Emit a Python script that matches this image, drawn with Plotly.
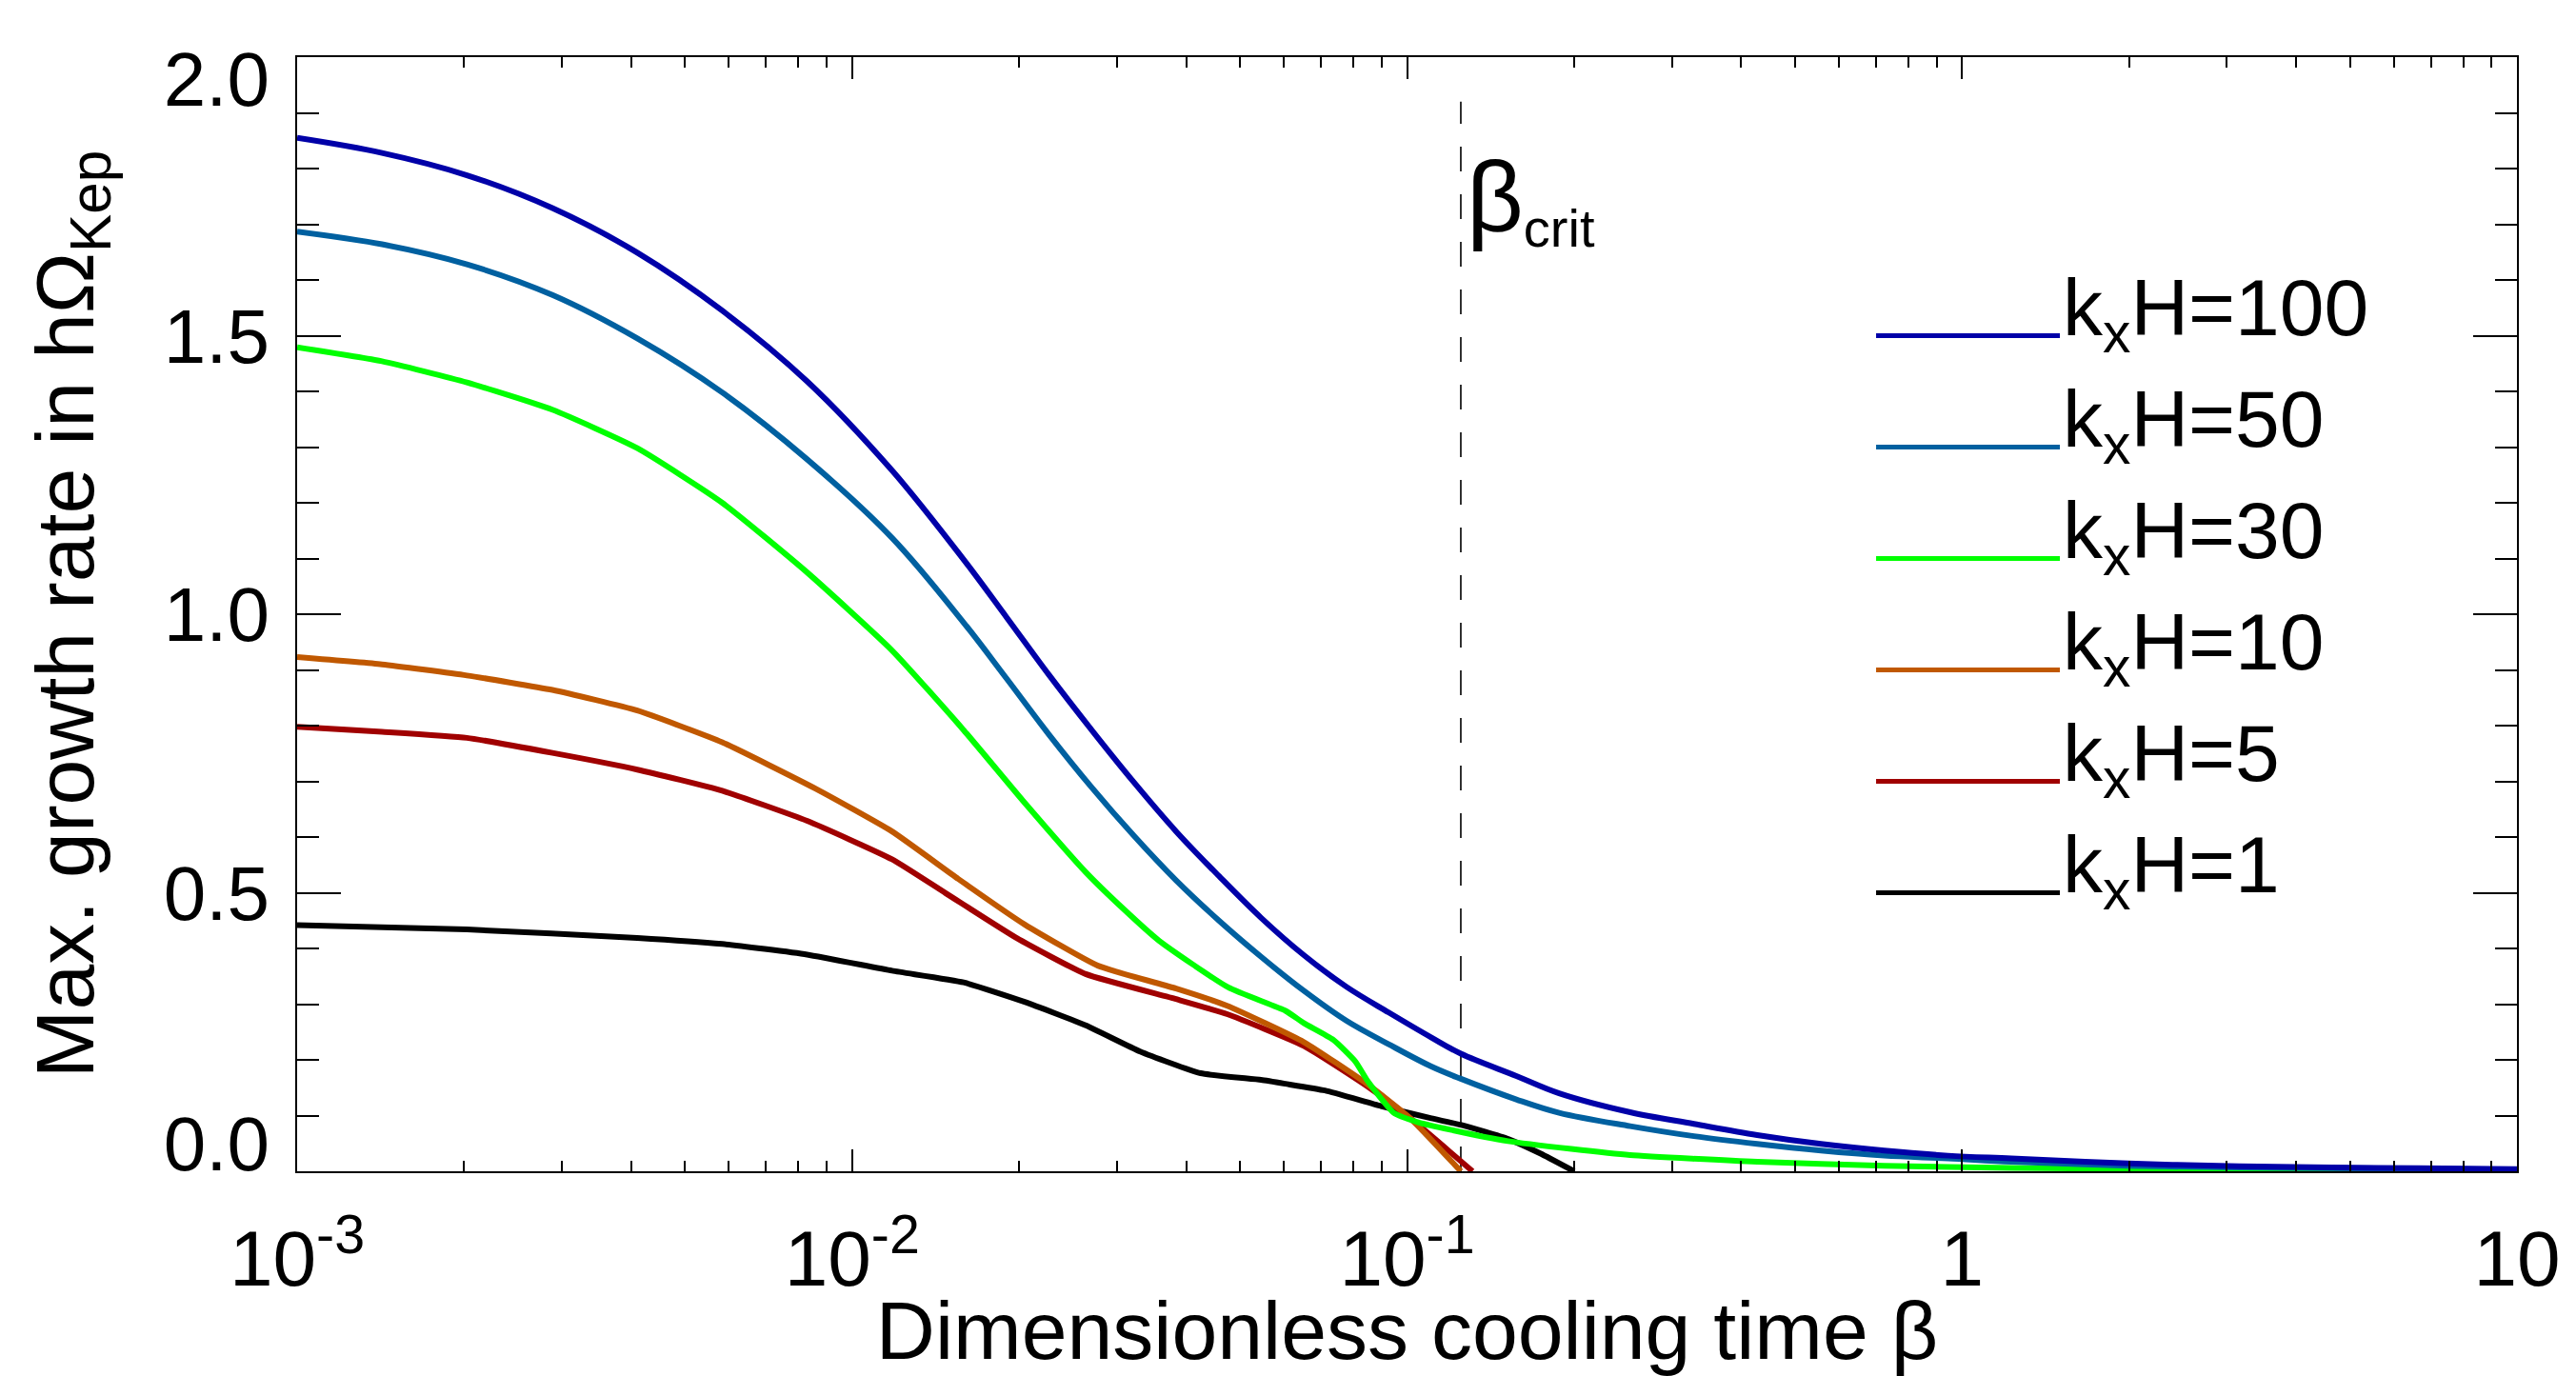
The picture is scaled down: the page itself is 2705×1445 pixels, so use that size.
import plotly.graph_objects as go

# ---------------- data ----------------
log_beta_k100 = [-3.0, -2.847, -2.694, -2.540, -2.387, -2.234, -2.081, -1.928, -1.799, -1.722,
                 -1.646, -1.569, -1.492, -1.416, -1.339, -1.263, -1.186, -1.109, -1.033, -0.956,
                 -0.903, -0.803, -0.726, -0.598, -0.483, -0.369, -0.254, -0.140, -0.025, 0.089,
                 0.3, 0.5, 0.75, 1.0]
growth_k100 = [1.855, 1.828, 1.788, 1.729, 1.649, 1.545, 1.418, 1.258, 1.098, 0.995,
               0.892, 0.793, 0.698, 0.610, 0.530, 0.455, 0.388, 0.331, 0.285, 0.240,
               0.211, 0.171, 0.140, 0.106, 0.085, 0.065, 0.049, 0.037, 0.028, 0.023,
               0.014, 0.009, 0.006, 0.004]

log_beta_k50 = [-3.0, -2.847, -2.694, -2.540, -2.387, -2.234, -2.081, -1.928, -1.799, -1.722,
                -1.646, -1.569, -1.492, -1.416, -1.339, -1.263, -1.186, -1.109, -1.033, -0.956,
                -0.903, -0.803, -0.726, -0.598, -0.483, -0.369, -0.254, -0.140, -0.025, 0.089,
                0.3, 0.5, 0.75, 1.0]
growth_k50 = [1.687, 1.664, 1.628, 1.573, 1.495, 1.398, 1.278, 1.137, 0.985, 0.885,
              0.785, 0.690, 0.602, 0.522, 0.450, 0.385, 0.324, 0.270, 0.228, 0.188,
              0.166, 0.129, 0.105, 0.081, 0.063, 0.049, 0.037, 0.028, 0.023, 0.017,
              0.010, 0.007, 0.005, 0.003]

log_beta_k30 = [-3.0, -2.847, -2.694, -2.540, -2.387, -2.234, -2.081, -1.928, -1.799, -1.692,
                -1.579, -1.510, -1.447, -1.322, -1.219, -1.186, -1.133, -1.093, -1.071, -1.024,
                -0.980, -0.933, -0.818, -0.704, -0.598, -0.369, -0.140, 0.089, 0.5, 1.0]
growth_k30 = [1.479, 1.454, 1.416, 1.367, 1.298, 1.200, 1.075, 0.935, 0.792, 0.665,
              0.537, 0.470, 0.414, 0.330, 0.288, 0.266, 0.236, 0.197, 0.162, 0.105,
              0.088, 0.077, 0.054, 0.040, 0.029, 0.017, 0.010, 0.006, 0.003, 0.002]

log_beta_k10 = [-3.0, -2.847, -2.694, -2.540, -2.387, -2.234, -2.066, -1.928, -1.809, -1.689,
                -1.557, -1.416, -1.324, -1.186, -1.071, -0.994, -0.903]
growth_k10 = [0.923, 0.910, 0.890, 0.864, 0.827, 0.770, 0.687, 0.610, 0.525, 0.443,
              0.369, 0.328, 0.297, 0.232, 0.156, 0.095, 0.0]

log_beta_k5 = [-3.0, -2.847, -2.694, -2.540, -2.387, -2.234, -2.081, -1.928, -1.831, -1.704,
               -1.579, -1.416, -1.324, -1.186, -1.071, -0.994, -0.882]
growth_k5 = [0.798, 0.789, 0.778, 0.751, 0.721, 0.683, 0.629, 0.560, 0.499, 0.419,
             0.354, 0.309, 0.282, 0.225, 0.152, 0.095, 0.0]

log_beta_k1 = [-3.0, -2.694, -2.387, -2.234, -2.081, -1.928, -1.799, -1.689, -1.579, -1.481,
               -1.372, -1.263, -1.219, -1.148, -1.047, -0.956, -0.902, -0.818, -0.760, -0.699]
growth_k1 = [0.442, 0.434, 0.419, 0.408, 0.389, 0.360, 0.339, 0.304, 0.262, 0.215,
             0.176, 0.164, 0.157, 0.145, 0.117, 0.095, 0.083, 0.058, 0.032, 0.0]

series_names = ["k<sub>x</sub>H=100", "k<sub>x</sub>H=50", "k<sub>x</sub>H=30",
                "k<sub>x</sub>H=10", "k<sub>x</sub>H=5", "k<sub>x</sub>H=1"]
series_colors = ["#0000A8", "#0060A0", "#00FF00", "#C05800", "#A00000", "#000000"]
series_smooth = [1.0, 1.0, 0.5, 0.45, 0.45, 0.45]
series_x = [log_beta_k100, log_beta_k50, log_beta_k30, log_beta_k10, log_beta_k5, log_beta_k1]
series_y = [growth_k100, growth_k50, growth_k30, growth_k10, growth_k5, growth_k1]

beta_crit = 0.125

x_tick_vals = [1e-3, 1e-2, 1e-1, 1, 10]
x_tick_text = ["10<sup>-3</sup>", "10<sup>-2</sup>", "10<sup>-1</sup>", "1", "10"]
y_tick_vals = [0.0, 0.5, 1.0, 1.5, 2.0]
y_tick_text = ["0.0", "0.5", "1.0", "1.5", "2.0"]
# label positions (the end labels sit slightly inside the frame in the original)
y_label_pos = [0.05, 0.5, 1.0, 1.5, 1.96]

FONT = "Liberation Sans, Arial, Helvetica, sans-serif"

fig = go.Figure()

# dashed beta_crit line
fig.add_trace(go.Scatter(x=[beta_crit, beta_crit], y=[0.0, 1.92], mode="lines",
                         line=dict(color="black", width=1.6, dash="26px,24px"),
                         showlegend=False, hoverinfo="skip"))

# curves, drawn from k=1 up so that the top curves are on top
for i in reversed(range(len(series_names))):
    fig.add_trace(go.Scatter(
        x=[10 ** v for v in series_x[i]], y=series_y[i], mode="lines",
        line=dict(color=series_colors[i], width=6, shape="spline",
                  smoothing=series_smooth[i]),
        name=series_names[i], showlegend=False))

# dummy trace to carry the label-only y axis
fig.add_trace(go.Scatter(x=[None], y=[None], yaxis="y2", showlegend=False, hoverinfo="skip"))

# legend drawn by hand (long line samples like the original)
leg_y0 = 0.75
leg_dy = 0.10
for i, name in enumerate(series_names):
    yy = leg_y0 - i * leg_dy
    fig.add_shape(type="line", xref="paper", yref="paper",
                  x0=0.7113, x1=0.7941, y0=yy, y1=yy,
                  line=dict(color=series_colors[i], width=5))
    fig.add_annotation(xref="paper", yref="paper", x=0.7945, y=yy, text=name,
                       showarrow=False, xanchor="left", yanchor="bottom", yshift=-31,
                       font=dict(family=FONT, size=84, color="black"))

# beta_crit label
fig.add_annotation(xref="paper", yref="paper", x=0.526, y=0.872,
                   text="<span style='font-size:104px'>β</span><sub>crit</sub>",
                   showarrow=False, xanchor="left",
                   yanchor="middle", font=dict(family=FONT, size=80, color="black"))

minor_x = []
for d in [1e-3, 1e-2, 1e-1, 1]:
    for m in range(2, 10):
        minor_x.append(d * m)

fig.update_layout(
    width=2697, height=1437, autosize=False,
    margin=dict(l=304, r=62, t=52, b=215),
    paper_bgcolor="white", plot_bgcolor="white",
    font=dict(family=FONT, color="black"),
    xaxis=dict(
        type="log", range=[-3, 1], tickmode="array",
        tickvals=x_tick_vals, ticktext=x_tick_text,
        ticks="inside", ticklen=23, tickwidth=2, tickcolor="black",
        showline=True, linecolor="black", linewidth=2, mirror="ticks",
        showgrid=False, zeroline=False,
        tickfont=dict(family=FONT, size=82, color="black"),
        ticklabelstandoff=20,
        minor=dict(tickmode="array", tickvals=minor_x, ticks="inside", ticklen=11,
                   tickwidth=2, tickcolor="black", showgrid=False),
        title=dict(text="Dimensionless cooling time β",
                   font=dict(family=FONT, size=86, color="black"), standoff=10),
        automargin=False,
    ),
    yaxis=dict(
        range=[0, 2], tickmode="array", tickvals=y_tick_vals,
        showticklabels=False,
        ticks="inside", ticklen=46, tickwidth=2, tickcolor="black",
        showline=True, linecolor="black", linewidth=2, mirror="ticks",
        showgrid=False, zeroline=False,
        minor=dict(dtick=0.1, tick0=0, ticks="inside", ticklen=23, tickwidth=2,
                   tickcolor="black", showgrid=False),
        automargin=False,
    ),
    yaxis2=dict(
        overlaying="y", side="left", range=[0, 2], tickmode="array",
        tickvals=y_label_pos, ticktext=y_tick_text, ticks="",
        showline=False, showgrid=False, zeroline=False,
        tickfont=dict(family=FONT, size=80, color="black"),
        ticklabelstandoff=28,
        title=dict(text="Max. growth rate in hΩ<sub>Kep</sub>",
                   font=dict(family=FONT, size=86, color="black"), standoff=44),
        automargin=False,
    ),
)

fig.write_html("out.html")
